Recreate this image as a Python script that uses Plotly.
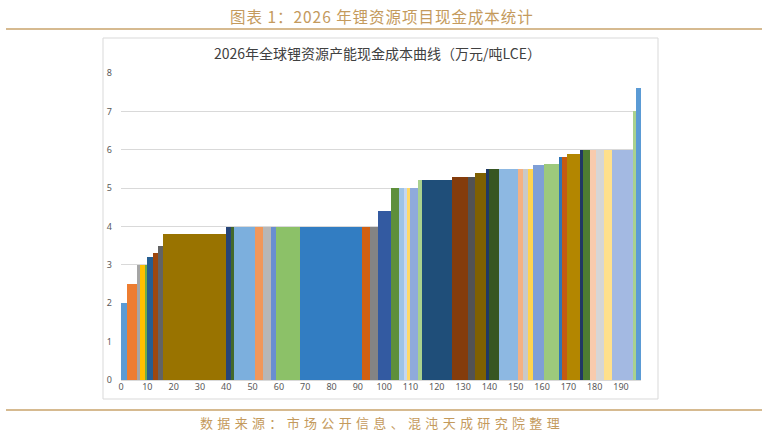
import plotly.graph_objects as go
import numpy as np

# capacity of each project block (x width) and its cash cost (万元/吨LCE)
capacity = [2.2, 4.0, 0.9, 1.9, 1.0, 2.1, 1.9, 2.1, 23.8, 1.9, 1.2, 8.1, 2.9, 2.9, 2.0, 9.2,
            23.6, 3.1, 3.0, 4.9, 3.1, 1.8, 1.1, 1.1, 3.0, 1.5, 11.4, 6.1, 2.9, 4.0, 1.2, 3.8,
            7.0, 1.9, 1.9, 2.2, 3.9, 5.9, 1.0, 2.0, 5.0, 1.0, 2.9, 2.2, 2.9, 3.1, 8.0, 1.0, 2.0]
cost = [2.0, 2.5, 3.0, 3.0, 3.0, 3.2, 3.3, 3.5, 3.8, 4.0, 4.0, 4.0, 4.0, 4.0, 4.0, 4.0,
        4.0, 4.0, 4.0, 4.4, 5.0, 5.0, 5.0, 5.0, 5.0, 5.2, 5.2, 5.3, 5.3, 5.4, 5.5, 5.5,
        5.5, 5.5, 5.5, 5.5, 5.6, 5.62, 5.8, 5.8, 5.9, 6.0, 6.0, 6.0, 6.0, 6.0, 6.0, 7.0, 7.6]
x_ticks = list(range(0, 200, 10))
y_ticks = list(range(0, 9))

# excel-like palette, one per block
colors = ['#5B9BD5', '#ED7D31', '#A5A5A5', '#FFC000', '#70AD47', '#255E91', '#9E480E', '#636363',
          '#997300', '#264478', '#43682B', '#7CAFDD', '#F1975A', '#B7B7B7', '#698ED0', '#8CC168',
          '#327DC2', '#D26012', '#848484', '#335AA1', '#5E8F3B', '#9DC3E6', '#C5D7EE', '#FFD966',
          '#8FAADC', '#A9D18E', '#1F4E79', '#843C0C', '#525252', '#7F6000', '#203864', '#375623',
          '#8DB8E2', '#F4B183', '#C9C9C9', '#FFD34F', '#7F9FD6', '#9DC97C', '#2E75B6', '#C55A11',
          '#B38600', '#203864', '#4E7D31', '#F8CBAD', '#D6D6D6', '#FFE08C', '#A3B9E2', '#A9D18E',
          '#5B9BD5']

w = np.array(capacity)
left = np.concatenate([[0], np.cumsum(w)[:-1]])
mid = left + w / 2
total = float(np.sum(w))

GOLD = '#C49A5C'
LINE_GOLD = '#C9A36B'
CJK = 'Noto Sans CJK SC'

W, H = 769, 435
# plot area in screenshot pixels: x 121..641, y 73..380
L, R, T, B = 121, 769 - 641, 73, 435 - 380
PW, PH = W - L - R, H - T - B


def px(x):
    return (x - L) / PW


def py(y):
    return (H - B - y) / PH


def spaced(s, sep='\u2006'):
    return sep.join(list(s))


fig = go.Figure()
fig.add_trace(go.Bar(
    x=mid, y=cost, width=w,
    marker=dict(color=colors, line=dict(width=0)),
    hovertemplate='成本 %{y}<extra></extra>',
    showlegend=False
))

# chart frame and gold rules
fig.add_shape(type='rect', xref='paper', yref='paper',
              x0=px(103), x1=px(658), y0=py(399), y1=py(38),
              line=dict(color='#D9D9D9', width=1), layer='below')
for yy in (29, 410):
    fig.add_shape(type='line', xref='paper', yref='paper',
                  x0=px(6), x1=px(762), y0=py(yy), y1=py(yy),
                  line=dict(color=LINE_GOLD, width=1.5))

fig.add_annotation(text=spaced('图表 1：2026 年锂资源项目现金成本统计', '\u200a'),
                   xref='paper', yref='paper', x=px(381), y=py(16), yanchor='middle',
                   showarrow=False, font=dict(family=CJK, size=15.5, color=GOLD))
fig.add_annotation(text='2026年全球锂资源产能现金成本曲线（万元/吨LCE）',
                   xref='paper', yref='paper', x=px(377), y=py(53), yanchor='middle',
                   showarrow=False, font=dict(family=CJK, size=14, color='#404040'))
fig.add_annotation(text=spaced('数据来源：市场公开信息、混沌天成研究院整理', '\u2004'),
                   xref='paper', yref='paper', x=px(380), y=py(422), yanchor='middle',
                   showarrow=False, font=dict(family=CJK, size=13, color=GOLD))

fig.update_layout(
    width=W, height=H,
    margin=dict(l=L, r=R, t=T, b=B),
    plot_bgcolor='white', paper_bgcolor='white',
    bargap=0,
    xaxis=dict(range=[0, total], tickvals=x_ticks, showgrid=False, zeroline=False,
               showline=False, ticks='',
               tickfont=dict(family='Noto Sans', size=9, color='#595959')),
    yaxis=dict(range=[0, 8], tickvals=y_ticks, showgrid=True, gridcolor='#D9D9D9',
               gridwidth=1, zeroline=True, zerolinecolor='#D9D9D9', ticks='',
               ticklabelstandoff=8,
               tickfont=dict(family='Noto Sans', size=9, color='#595959')),
)

# drop the default page margin so the figure sits at the window corner
fig.write_html('out.html', config={'displayModeBar': False},
               post_script="document.body.style.margin='0';")
